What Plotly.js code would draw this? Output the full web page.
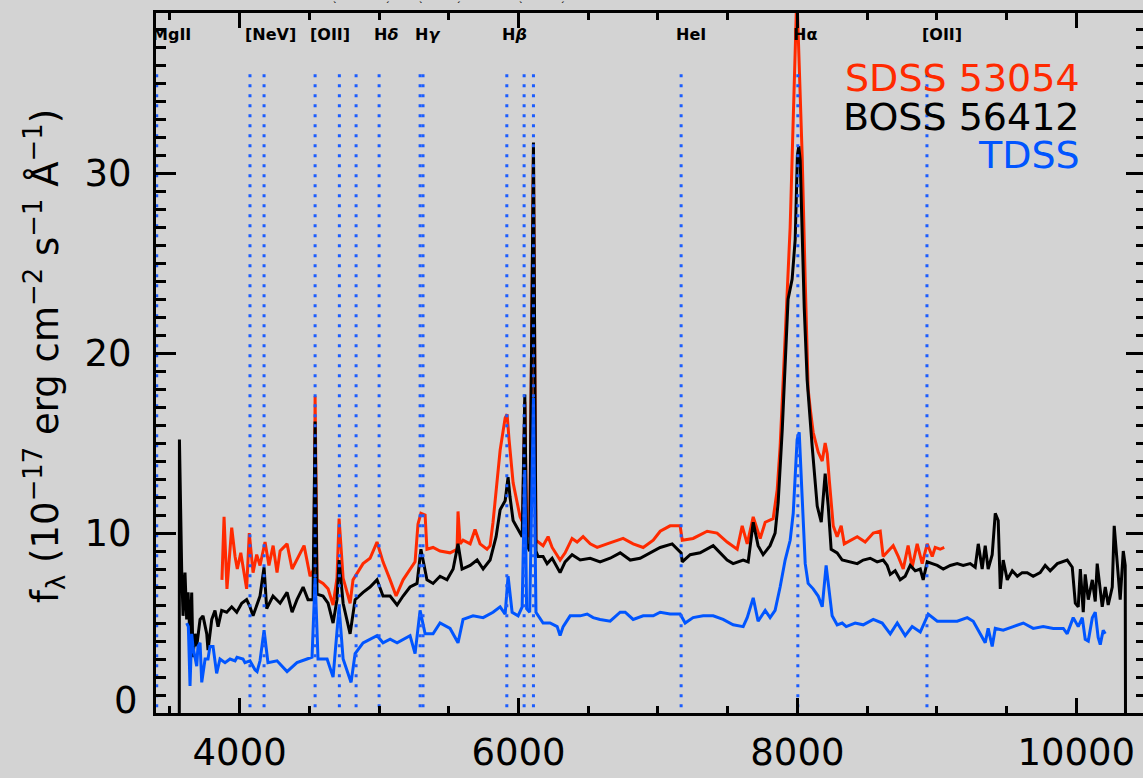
<!DOCTYPE html>
<html><head><meta charset="utf-8">
<script src="https://cdn.plot.ly/plotly-3.0.1.min.js"></script>
<style>html,body{margin:0;padding:0;background:#d3d3d3;overflow:hidden}</style>
</head><body>
<div id="chart" style="width:1150px;height:778px"></div>
<script>
// ---------- DATA ----------
const bossWave = [3567,3568,3584,3594,3608,3620,3630,3644,3656,3665,3680,3692,3716,3737,3764,3773,3800,3823,3845,3871,3907,3943,3979,4015,4050,4074,4096,4146,4175,4194,4239,4290,4340,4376,4411,4455,4490,4526,4541,4555,4598,4634,4670,4698,4713,4742,4792,4828,4885,4935,4985,5028,5079,5129,5172,5222,5272,5300,5343,5387,5437,5487,5531,5566,5595,5653,5703,5746,5796,5839,5868,5904,5925,5939,5961,5997,6026,6045,6058,6080,6107,6125,6140,6176,6205,6241,6298,6334,6384,6442,6514,6585,6657,6729,6801,6872,6944,7016,7102,7166,7174,7231,7302,7396,7496,7539,7611,7647,7683,7718,7754,7804,7840,7862,7891,7912,7933,7962,7984,8000,8010,8020,8034,8049,8070,8092,8106,8142,8171,8199,8221,8242,8285,8321,8379,8429,8472,8522,8572,8615,8644,8666,8701,8737,8773,8809,8845,8881,8902,8931,8967,9003,9046,9096,9146,9189,9239,9275,9297,9325,9347,9368,9397,9419,9440,9455,9476,9505,9541,9577,9612,9648,9691,9741,9777,9813,9864,9900,9935,9971,9993,10014,10029,10050,10064,10086,10115,10136,10150,10186,10208,10229,10258,10272,10294,10315,10337,10351,10353];
const bossFlux = [0,15.2,8.0,5.4,7.8,5.2,6.7,4.1,6.7,3.1,4.4,3.7,5.2,5.4,4.4,3.5,5.2,5.7,4.8,5.7,5.6,5.9,5.6,6.1,6.3,5.9,5.4,6.5,8.1,5.8,6.5,6.1,6.7,5.6,6.3,7.0,6.3,6.3,16.2,6.6,6.5,6.1,5.0,6.3,8.5,6.1,4.4,6.3,6.7,7.0,7.4,6.5,6.5,6.0,6.5,7.0,7.2,9.1,7.4,7.2,7.6,7.4,8.0,9.4,8.0,8.2,8.5,8.0,8.5,9.8,11.3,11.8,13.1,12.0,10.7,10.2,9.8,17.7,9.4,9.0,31.7,9.0,8.7,8.7,8.3,8.6,7.8,8.4,8.8,8.5,8.6,8.4,8.6,8.9,8.5,8.6,8.9,9.2,9.4,8.9,8.4,8.8,8.9,9.3,8.5,8.3,8.5,8.4,10.6,9.3,8.8,9.3,10.0,11.7,15.7,19.6,23.0,24.1,26.3,31.0,31.5,30.7,27.0,22.5,18.5,16.0,14.8,11.5,10.6,13.3,11.5,9.1,8.9,8.5,8.4,8.3,8.5,8.6,8.4,8.5,8.2,7.7,7.9,7.4,7.6,8.2,7.9,8.0,7.4,8.4,8.3,8.2,8.0,8.2,8.3,8.2,8.3,8.1,9.4,8.0,9.3,8.0,8.8,11.1,10.7,6.9,8.5,7.4,7.9,7.6,7.8,7.8,7.6,7.8,8.2,7.9,8.3,8.4,8.5,8.1,6.1,5.9,8.0,5.6,7.7,6.3,7.4,6.2,8.3,5.9,7.0,6.0,7.0,10.4,8.3,6.3,9.0,8.2,0];

const sdssWave = [3873,3888,3909,3943,3967,3983,4008,4031,4050,4069,4096,4122,4146,4182,4210,4240,4268,4290,4340,4376,4411,4462,4505,4533,4541,4555,4598,4634,4670,4698,4713,4742,4792,4813,4885,4935,4985,5028,5079,5122,5172,5222,5258,5279,5300,5330,5343,5387,5437,5509,5559,5566,5581,5602,5653,5688,5724,5774,5796,5817,5868,5904,5918,5932,5961,5990,6011,6030,6045,6058,6080,6107,6125,6176,6212,6241,6298,6334,6384,6420,6463,6514,6564,6635,6678,6750,6822,6894,6966,7016,7087,7159,7174,7252,7353,7424,7496,7568,7604,7640,7683,7733,7769,7826,7855,7876,7898,7924,7948,7970,7996,8013,8034,8056,8077,8092,8113,8149,8178,8199,8214,8228,8242,8257,8285,8314,8336,8379,8429,8486,8544,8594,8615,8651,8687,8723,8759,8794,8823,8859,8895,8931,8967,8988,9024,9053];
const sdssFlux = [7.4,10.9,6.9,10.3,8.7,8.0,8.9,7.9,6.9,10.0,7.8,8.8,8.2,9.5,8.2,9.3,7.8,9.0,9.4,8.0,8.5,9.3,7.6,8.0,17.6,7.4,7.2,6.9,6.0,7.5,10.8,7.5,6.1,7.4,8.3,8.6,9.5,8.4,7.4,6.5,7.4,8.0,8.4,10.5,11.1,11.0,9.1,9.2,9.0,8.9,9.1,11.2,9.4,9.6,9.4,10.2,9.4,9.1,9.3,10.6,14.6,16.4,16.6,15.2,12.8,11.7,10.9,10.6,17.3,10.0,9.8,31.0,9.6,9.3,9.8,9.2,8.5,8.9,9.7,9.5,9.8,9.4,9.2,9.4,9.5,9.7,9.4,9.2,9.6,10.1,10.4,10.4,9.6,9.7,10.1,10.0,9.5,9.1,10.4,9.4,10.9,9.7,10.6,10.8,12.4,14.8,18.5,23.0,27.0,33.0,40.0,36.0,31.0,24.0,18.0,16.9,15.6,14.5,14.0,15.0,14.4,13.0,11.5,10.4,9.8,10.4,9.4,9.6,9.8,9.5,10.0,10.1,8.7,9.0,9.3,8.7,8.0,9.3,8.1,9.4,8.3,9.4,8.7,9.2,9.1,9.2];

const tdssWave = [3620,3632,3644,3656,3665,3692,3701,3716,3728,3752,3773,3787,3809,3835,3859,3895,3931,3967,3981,4024,4038,4074,4110,4125,4146,4175,4203,4268,4340,4411,4483,4519,4541,4562,4627,4670,4713,4742,4799,4828,4885,4935,4985,5028,5079,5129,5172,5222,5258,5294,5330,5387,5437,5509,5566,5602,5674,5746,5817,5868,5904,5925,5954,5997,6026,6045,6058,6080,6107,6125,6176,6226,6277,6298,6320,6370,6442,6492,6535,6585,6657,6729,6765,6822,6894,6966,7016,7087,7159,7195,7252,7324,7396,7467,7539,7611,7640,7683,7718,7769,7804,7840,7876,7912,7948,7970,7998,8013,8034,8056,8077,8113,8149,8178,8206,8228,8249,8285,8321,8350,8414,8472,8544,8608,8666,8716,8773,8823,8881,8938,9003,9074,9146,9218,9261,9311,9347,9368,9397,9419,9476,9548,9620,9691,9763,9835,9907,9935,9978,10014,10043,10064,10086,10115,10136,10157,10172,10193,10208];
const tdssFlux = [5.0,4.8,1.5,4.4,3.7,2.6,3.7,3.9,1.7,3.0,3.0,3.7,3.7,2.2,3.0,2.8,3.0,2.9,3.1,3.0,2.8,2.9,2.4,2.3,2.9,4.6,2.8,2.9,2.3,2.8,3.0,3.1,7.5,3.0,3.0,2.0,5.9,3.0,1.7,3.3,3.9,4.1,4.3,3.9,4.1,3.9,4.1,4.3,3.3,5.7,4.4,4.4,5.0,4.7,3.9,5.2,5.4,5.3,5.6,5.9,5.5,7.6,5.6,5.4,5.9,13.5,5.8,5.6,17.5,5.6,5.0,5.0,4.8,4.3,4.8,5.4,5.4,5.5,5.3,5.2,5.1,5.6,5.6,5.2,5.4,5.4,5.6,5.5,5.5,5.0,5.3,5.4,5.4,5.2,4.9,4.8,5.3,6.4,5.1,5.7,5.3,5.7,7.0,8.5,9.6,11.1,15.2,15.6,12.0,8.3,7.2,6.9,6.5,5.9,8.2,6.7,5.4,4.9,5.0,4.8,5.0,4.9,5.2,5.0,4.4,5.0,4.3,4.8,4.5,5.5,5.1,5.1,5.1,5.3,5.1,4.4,3.9,4.7,3.7,4.7,4.6,4.8,5.0,4.7,4.8,4.7,4.7,4.4,5.3,4.8,5.3,4.1,4.0,5.3,5.6,4.2,3.8,4.6,4.4];

// emission-line markers (observed wavelength, Å)
const lineWaves = [3405,4074,4175,4541,4715,4835,5000,5294,5315,5916,6040,6107,7166,8003,8929];
const lineTop = 35.5;
const labelNames = ['MgII','[NeV]','[OII]','H<i>δ</i>','H<i>γ</i>','H<i>β</i>','HeI','Hα','[OII]'];
const labelWaves = [3405,4074,4541,5000,5294,5916,7166,8003,8929];

const seriesNames = ['SDSS 53054','BOSS 56412','TDSS'];
const seriesColors = ['#ff2a00','#000000','#0055ff'];

const xTickVals = [4000,6000,8000,10000];
const xTickText = ['4000','6000','8000','10000'];
const yTickVals = [10,20,30];
const topMarks = [[4684,'ˋ'],[5057,'ˊ'],[5301,'ˋ'],[5566,'ˊ'],[6018,'ˋ'],[6312,'ˊ']];

// ---------- FIGURE ----------
const traces = [
  {x: sdssWave, y: sdssFlux, mode:'lines', line:{color:seriesColors[0], width:3}, hoverinfo:'skip'},
  {x: bossWave, y: bossFlux, mode:'lines', line:{color:seriesColors[1], width:3}, hoverinfo:'skip'},
  {x: tdssWave, y: tdssFlux, mode:'lines', line:{color:seriesColors[2], width:3}, hoverinfo:'skip'}
];
lineWaves.forEach(w => traces.push({
  x:[w,w], y:[lineTop,0], mode:'lines',
  line:{color:'#1a5cff', width:3, dash:'3px,7px'}, hoverinfo:'skip'
}));

const annotations = [];
labelNames.forEach((n,i) => annotations.push({
  x: labelWaves[i], xref:'x', y: 0.9686, yref:'paper', text:'<b>'+n+'</b>',
  showarrow:false, xanchor:'left', yanchor:'middle', xshift:-7,
  font:{family:'DejaVu Sans', size:16, color:'#000'}
}));
const legY = [0.9071, 0.8514, 0.7971];
seriesNames.forEach((n,i) => annotations.push({
  x:0.9354, xref:'paper', y:legY[i], yref:'paper', text:n, showarrow:false,
  xanchor:'right', yanchor:'middle', font:{family:'DejaVu Sans', size:38, color:seriesColors[i]}
}));
annotations.push({
  x:0, xref:'paper', y:0.5, yref:'paper', xshift:-112, yshift:7, textangle:-90,
  text:'f<sub>λ</sub> (10<sup>−17</sup> erg cm<sup>−2</sup> s<sup>−1</sup> Å<sup>−1</sup>)',
  showarrow:false, xanchor:'center', yanchor:'middle',
  font:{family:'DejaVu Sans', size:37, color:'#000'}
});
annotations.push({
  x:0, xref:'paper', y:0, yref:'y', xshift:-16, yshift:13, text:'0', showarrow:false,
  xanchor:'right', yanchor:'middle', font:{family:'DejaVu Sans', size:37, color:'#000'}
});
topMarks.forEach(m => annotations.push({
  x:m[0], xref:'x', y:1, yref:'paper', yshift:7, text:'<b>'+m[1]+'</b>', showarrow:false,
  xanchor:'center', yanchor:'middle', font:{family:'DejaVu Sans', size:9, color:'#000'}
}));

const layout = {
  width:1150, height:778,
  margin:{l:156, r:4, t:13, b:65},
  paper_bgcolor:'#d3d3d3', plot_bgcolor:'#d3d3d3',
  showlegend:false,
  xaxis:{
    range:[3400,10500], tickmode:'array', tickvals:xTickVals, ticktext:xTickText,
    ticks:'inside', ticklen:15, tickwidth:3, tickcolor:'#000',
    showline:true, linewidth:3, linecolor:'#000', mirror:'ticks',
    showgrid:false, zeroline:false, ticklabelstandoff:5,
    tickfont:{family:'DejaVu Sans', size:37, color:'#000'},
    minor:{tickmode:'linear', tick0:0, dtick:500, ticks:'inside', ticklen:7, tickwidth:3, tickcolor:'#000', showgrid:false}
  },
  yaxis:{
    range:[0,38.9], tickmode:'array', tickvals:yTickVals,
    ticks:'inside', ticklen:20, tickwidth:3, tickcolor:'#000',
    showline:true, linewidth:3, linecolor:'#000', mirror:'ticks',
    showgrid:false, zeroline:false, ticklabelstandoff:14,
    tickfont:{family:'DejaVu Sans', size:37, color:'#000'},
    minor:{tickmode:'linear', tick0:0, dtick:1, ticks:'inside', ticklen:10, tickwidth:3, tickcolor:'#000', showgrid:false}
  },
  annotations: annotations
};
Plotly.newPlot('chart', traces, layout, {staticPlot:true, displayModeBar:false});
</script>
</body></html>
